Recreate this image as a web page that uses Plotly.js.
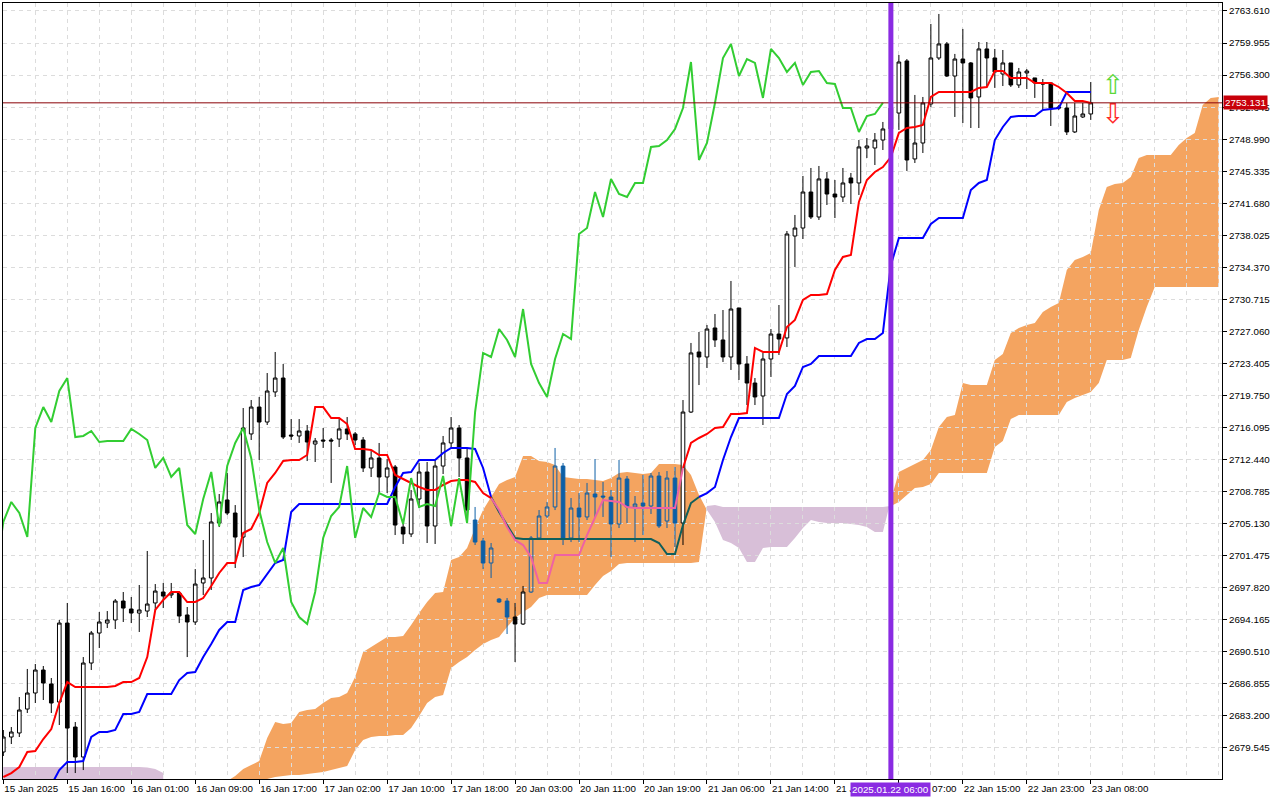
<!DOCTYPE html>
<html><head><meta charset="utf-8">
<script src="https://cdn.plot.ly/plotly-3.0.1.min.js"></script>
<style>html,body{margin:0;padding:0;background:#fff}#chart{width:1280px;height:800px}</style>
</head><body><div id="chart"></div>
<script>
// ---- candles (H1), bar position index 0..136 ----
const candleOpen = [2679.08,2680.79,2681.25,2683.98,2685.81,2688.43,2686.84,2684.78,2693.79,2681.93,2678.51,2689.23,2692.65,2693.79,2694.14,2696.30,2695.39,2694.93,2695.16,2696.08,2697.33,2696.99,2697.22,2694.71,2693.91,2698.36,2698.93,2705.20,2707.83,2706.34,2703.60,2715.36,2718.43,2716.72,2720.15,2721.74,2715.24,2715.13,2715.70,2714.21,2714.67,2714.67,2714.78,2715.93,2715.36,2714.67,2711.48,2712.62,2710.45,2711.59,2704.74,2703.95,2707.94,2711.02,2704.86,2711.70,2714.33,2716.04,2712.62,2705.54,2703.15,2700.64,2696.53,2696.30,2694.48,2693.68,2697.33,2703.49,2706.00,2707.03,2711.70,2703.49,2706.91,2705.89,2708.51,2708.28,2708.17,2705.09,2710.22,2707.03,2707.48,2707.14,2710.56,2705.43,2710.33,2705.20,2717.86,2724.71,2724.14,2727.45,2726.08,2724.14,2729.73,2723.34,2721.17,2719.69,2723.91,2726.76,2726.31,2737.94,2738.85,2742.96,2740.11,2744.45,2742.73,2742.39,2744.56,2743.99,2747.98,2747.98,2748.89,2750.15,2751.97,2757.91,2746.73,2748.55,2753.00,2758.25,2759.85,2756.19,2758.13,2757.68,2753.80,2759.28,2758.25,2756.42,2757.68,2755.17,2756.54,2755.97,2755.40,2755.40,2752.66,2752.54,2749.81,2751.52,2751.86];
const candleHigh = [2681.59,2681.93,2685.35,2688.55,2689.12,2688.89,2687.52,2694.14,2696.08,2682.50,2689.91,2692.88,2695.05,2695.16,2696.53,2697.33,2696.76,2698.13,2702.01,2698.24,2698.36,2698.36,2697.33,2695.62,2699.95,2703.26,2706.34,2708.51,2710.91,2707.25,2718.32,2719.23,2719.58,2722.31,2724.71,2723.34,2717.06,2717.06,2716.38,2714.90,2716.04,2714.90,2717.18,2717.29,2715.58,2715.01,2713.41,2714.33,2712.50,2711.82,2705.54,2708.97,2712.05,2712.16,2712.50,2715.13,2717.29,2716.38,2713.76,2707.03,2703.49,2702.92,2696.64,2696.64,2696.08,2698.02,2703.72,2706.68,2707.60,2713.76,2712.05,2708.05,2708.62,2709.77,2712.50,2709.88,2708.97,2712.39,2710.56,2708.28,2710.68,2710.91,2711.02,2711.13,2711.59,2719.23,2725.74,2726.99,2727.79,2729.04,2729.50,2732.81,2729.73,2724.25,2721.74,2724.60,2727.33,2730.07,2738.51,2740.34,2744.79,2745.70,2745.93,2745.24,2744.33,2745.70,2745.13,2748.89,2749.12,2749.69,2750.95,2753.00,2758.59,2758.13,2754.03,2753.80,2762.13,2763.27,2760.07,2758.71,2761.56,2757.79,2760.07,2760.07,2759.28,2759.16,2757.68,2757.11,2756.99,2755.97,2755.85,2755.40,2752.89,2753.12,2753.12,2753.12,2755.51];
const candleLow = [2678.62,2679.99,2680.79,2683.53,2684.67,2685.01,2683.53,2682.16,2676.68,2676.68,2677.02,2688.43,2690.94,2693.22,2693.11,2693.91,2693.79,2692.77,2694.48,2695.28,2695.50,2696.64,2693.79,2689.91,2693.57,2696.99,2697.56,2704.74,2706.11,2700.07,2701.32,2714.67,2712.39,2716.38,2719.58,2714.78,2714.67,2714.33,2712.27,2712.16,2713.76,2709.77,2713.87,2714.67,2714.10,2711.02,2710.45,2708.62,2708.62,2703.83,2702.81,2703.60,2706.91,2702.92,2702.81,2710.79,2713.76,2710.45,2705.32,2702.69,2699.95,2698.93,2696.08,2692.54,2689.34,2693.57,2697.22,2703.26,2705.77,2706.68,2702.69,2703.03,2703.03,2705.54,2705.77,2705.89,2701.32,2704.63,2705.20,2703.03,2703.83,2706.23,2704.63,2704.63,2702.46,2702.69,2717.75,2720.94,2722.88,2725.28,2723.57,2722.66,2721.52,2718.66,2718.66,2716.38,2721.86,2724.37,2725.28,2734.41,2737.60,2739.88,2739.77,2741.48,2739.99,2741.82,2741.59,2742.62,2746.84,2746.04,2747.75,2749.46,2750.04,2745.36,2746.27,2747.41,2752.66,2758.02,2756.08,2751.52,2750.83,2750.26,2750.26,2754.94,2754.83,2755.05,2754.94,2754.83,2754.71,2753.69,2752.32,2750.49,2752.32,2749.46,2749.69,2751.40,2751.18];
const candleClose = [2680.79,2681.36,2683.87,2685.81,2688.43,2686.95,2684.67,2693.79,2681.81,2678.51,2689.23,2692.65,2693.91,2694.14,2696.30,2695.50,2694.93,2695.28,2695.96,2697.44,2696.87,2697.22,2694.59,2693.91,2698.24,2698.93,2705.32,2707.60,2706.34,2703.60,2716.04,2718.43,2716.72,2720.26,2721.74,2715.01,2715.13,2715.70,2714.44,2714.56,2714.56,2714.56,2715.93,2715.36,2714.67,2711.48,2712.62,2710.45,2711.48,2704.97,2703.95,2707.94,2711.02,2704.86,2711.70,2714.33,2716.04,2712.62,2706.68,2703.03,2700.64,2702.35,2696.19,2694.48,2693.68,2697.33,2703.49,2706.00,2707.03,2711.70,2703.49,2706.91,2705.89,2708.62,2708.17,2708.17,2705.09,2710.33,2707.03,2707.37,2707.14,2710.56,2704.86,2710.33,2705.20,2717.86,2724.60,2724.14,2727.33,2726.08,2724.14,2729.61,2723.34,2721.17,2719.58,2723.91,2726.76,2726.19,2738.17,2738.85,2742.96,2740.11,2744.45,2742.73,2742.39,2743.99,2743.99,2748.10,2748.21,2748.89,2750.15,2752.54,2757.79,2746.61,2748.55,2753.12,2758.25,2759.85,2756.19,2758.13,2757.68,2753.69,2759.28,2758.25,2756.65,2757.68,2755.17,2756.65,2756.76,2755.40,2755.28,2752.54,2752.54,2749.81,2751.63,2751.86,2753.131];
// candles drawn in the cloud colour (bar indices)
const cloudCandleIdx = [59,60,61,62,63,66,67,68,69,70,71,72,73,74,75,76,77,78,79,80,81,82,83,84];

// ---- Ichimoku lines, bar position index 0..136 ----
const tenkan = [2676.22,2676.68,2677.37,2679.08,2679.19,2680.56,2681.70,2684.67,2687.06,2686.49,2686.49,2686.49,2686.49,2686.49,2686.61,2687.06,2687.06,2687.52,2689.91,2695.28,2696.42,2697.33,2697.33,2696.19,2696.19,2696.64,2698.02,2699.50,2700.64,2700.64,2704.06,2704.52,2706.34,2709.77,2710.91,2712.27,2712.39,2712.39,2712.96,2718.43,2718.43,2717.18,2717.18,2716.49,2713.64,2713.64,2713.53,2712.96,2712.96,2710.68,2710.22,2709.77,2709.31,2708.97,2708.97,2709.54,2709.99,2710.11,2710.11,2709.88,2708.62,2708.05,2706.68,2704.74,2703.26,2702.69,2701.32,2698.36,2698.36,2701.55,2701.55,2701.55,2701.55,2703.83,2705.89,2707.83,2707.71,2707.60,2707.03,2706.91,2706.91,2706.91,2706.91,2706.91,2706.91,2711.48,2714.33,2714.90,2715.36,2716.04,2716.15,2717.64,2717.64,2717.75,2725.17,2724.71,2724.71,2724.71,2727.56,2728.36,2730.64,2731.21,2731.21,2731.32,2734.06,2735.55,2735.77,2741.82,2744.33,2745.24,2745.81,2746.95,2749.69,2750.26,2750.38,2750.60,2753.80,2754.37,2754.37,2754.37,2754.37,2754.37,2754.83,2754.94,2756.76,2756.76,2755.97,2755.97,2755.97,2755.40,2755.40,2755.40,2754.94,2754.26,2753.34,2753.34,2753.12];
const kijun = [null,null,null,null,null,null,2675.31,2677.02,2677.94,2677.94,2678.05,2680.79,2681.36,2681.36,2681.59,2683.41,2683.41,2683.64,2685.69,2685.69,2685.69,2685.69,2687.29,2688.09,2688.20,2689.91,2691.40,2693.00,2693.91,2693.91,2697.56,2697.90,2698.13,2699.38,2700.64,2700.98,2706.46,2707.37,2707.37,2707.37,2707.37,2707.37,2707.37,2707.37,2707.37,2707.37,2707.37,2707.37,2707.37,2709.31,2710.91,2711.02,2712.39,2712.39,2712.39,2713.19,2713.76,2713.76,2713.76,2713.64,2711.48,2708.17,2706.46,2704.97,2703.49,2703.37,2703.37,2703.37,2703.37,2703.37,2703.37,2703.37,2703.37,2703.37,2703.37,2703.37,2703.37,2703.37,2703.37,2703.37,2703.37,2703.37,2702.92,2701.66,2701.66,2704.97,2707.48,2708.17,2708.62,2709.31,2712.39,2715.01,2717.18,2717.18,2717.18,2717.18,2717.18,2717.18,2719.92,2720.83,2723.00,2723.34,2724.25,2724.25,2724.25,2724.25,2724.25,2725.74,2726.19,2726.19,2726.88,2734.63,2737.71,2737.71,2737.71,2737.71,2739.31,2739.99,2739.99,2739.99,2739.99,2743.19,2743.99,2744.33,2748.89,2750.38,2751.52,2751.63,2751.63,2751.63,2752.32,2752.43,2752.54,2754.37,2754.37,2754.37,2754.37];
const chikouShift = 26;           // Chikou = close drawn 26 bars back
const tenkanInCloud = [61, 85];   // bar range where Tenkan lies inside the cloud
const kijunInCloud = [61, 87];    // bar range where Kijun lies inside the cloud

// ---- Kumo (already shifted), chart position index 0..152 ----
const spanA = [2674.74,2674.74,2674.74,2674.74,2674.74,2674.74,2674.74,2674.74,2674.74,2674.74,2674.74,2674.74,2674.74,2674.74,2674.74,2674.74,2674.74,2674.74,2674.74,2674.74,2674.74,
 null,null,null,null,null,null,null,
 2675.77,2676.34,2677.14,2677.59,2678.05,2680.67,2682.50,2682.27,2682.38,2683.64,2683.87,2683.98,2684.67,2685.24,2685.35,2685.81,2687.63,2690.49,2691.06,2691.63,2692.20,2692.20,2692.31,2693.57,2694.93,2696.19,2697.22,2697.33,2700.98,2701.32,2702.35,2704.63,2706.68,2708.17,2709.65,2710.11,2710.45,2712.84,2712.84,2712.27,2712.16,2711.82,2710.45,2710.33,2710.22,2710.22,2710.11,2709.99,2710.33,2710.91,2711.02,2710.91,2710.79,2710.91,2711.93,2711.93,2711.93,2711.82,2710.68,2708.40,
 2706.68,2705.32,2703.26,2702.92,2702.35,2700.75,2700.75,2702.35,2702.46,2702.46,2702.46,2703.49,2704.63,2705.54,2705.32,2705.20,2705.20,2705.20,2705.09,2704.97,2704.74,2704.17,2704.17,
 2707.83,2711.02,2711.48,2711.93,2712.39,2713.53,2716.15,2717.29,2717.52,2721.17,2720.94,2720.94,2720.94,2723.80,2724.48,2726.87,2727.45,2727.79,2728.02,2729.27,2729.84,2730.30,2734.06,2735.20,2735.55,2736.00,2740.91,2743.53,2743.87,2743.99,2744.67,2746.84,2747.18,2747.18,2747.18,2747.18,2748.32,2749.12,2749.69,2752.89,2753.69,2753.80];
const spanB = [2677.37,2677.37,2677.37,2677.37,2677.37,2677.37,2677.37,2677.37,2677.37,2677.37,2677.37,2677.37,2677.37,2677.37,2677.37,2677.37,2677.37,2677.37,2677.31,2677.14,2676.68,
 null,null,null,null,null,null,null,
 2674.51,2674.74,2675.20,2675.54,2675.77,2676.00,2676.22,2676.34,2676.45,2676.45,2676.57,2676.68,2676.79,2677.02,2677.25,2677.48,2679.31,2680.45,2680.79,2680.90,2680.90,2681.02,2681.02,2681.81,2683.18,2684.67,2685.35,2685.58,2688.66,2689.34,2689.91,2690.71,2691.40,2691.85,2692.20,2693.34,2694.36,2695.05,2695.62,2696.64,2696.99,2696.99,2696.99,2696.99,2696.99,2696.99,2698.13,2699.16,2699.73,2700.53,2700.64,2700.64,2700.64,2700.64,2700.64,2700.64,2700.64,2700.64,2700.64,2700.75,
 2707.14,2707.25,2707.03,2707.03,2707.03,2707.03,2707.03,2707.03,2707.03,2707.03,2707.03,2707.03,2707.03,2707.03,2707.03,2707.03,2707.03,2707.03,2707.03,2707.03,2707.03,2707.03,2707.03,
 2707.14,2707.60,2708.40,2709.19,2709.31,2709.65,2710.91,2710.91,2710.91,2710.91,2710.91,2710.91,2710.91,2713.87,2714.56,2717.06,2717.52,2717.52,2717.52,2717.52,2717.52,2717.52,2719.00,2719.46,2719.80,2720.14,2721.17,2723.80,2723.80,2723.80,2724.03,2727.22,2729.84,2732.13,2732.13,2732.13,2732.13,2732.13,2732.13,2732.13,2732.13,2732.13];

// ---- axes ----
const xTickIdx = [0,8,16,24,32,40,48,56,64,72,80,88,96,104,112,120,128,136];
const xTickText = ["15 Jan 2025","15 Jan 16:00","16 Jan 01:00","16 Jan 09:00","16 Jan 17:00","17 Jan 02:00","17 Jan 10:00","17 Jan 18:00","20 Jan 03:00","20 Jan 11:00","20 Jan 19:00","21 Jan 06:00","21 Jan 14:00","21 Jan 22:00","22 Jan 07:00","22 Jan 15:00","22 Jan 23:00","23 Jan 08:00"];
const yTicks = [2679.545,2683.200,2686.855,2690.510,2694.165,2697.820,2701.475,2705.130,2708.785,2712.440,2716.095,2719.750,2723.405,2727.060,2730.715,2734.370,2738.025,2741.680,2745.335,2748.990,2752.645,2756.300,2759.955,2763.610];
const markerIdx = 111;                 // vertical marker bar
const markerLabel = "2025.01.22 06:00";
const lastPrice = 2753.131;
const signalIdx = [138.8, 138.8];
const signalPrice = [2754.95, 2751.57];
const signalText = ["⇧", "⇩"];

// ---- build ----
const FONT = "Liberation Sans, Arial, sans-serif";
const idx = candleOpen.map((_, i) => i);
const traces = [];
const shapes = [];

// cloud, drawn as filled paths in data coordinates beneath the grid
(function () {
  const segs = []; let seg = null;
  for (let i = 0; i < spanA.length; i++) {
    const a = spanA[i], b = spanB[i];
    if (a == null || b == null) { if (seg) { segs.push(seg); seg = null; } continue; }
    const up = a >= b;
    if (seg && seg.up !== up) { seg.pts.push(i); segs.push(seg); seg = null; }
    if (!seg) seg = { up: up, pts: [] };
    seg.pts.push(i);
  }
  if (seg) segs.push(seg);
  segs.forEach(s => {
    const rev = s.pts.slice().reverse();
    const pts = s.pts.map(i => i + ',' + spanA[i]).concat(rev.map(i => i + ',' + spanB[i]));
    shapes.push({
      type: 'path', xref: 'x', yref: 'y', layer: 'below',
      path: 'M' + pts.join('L') + 'Z',
      fillcolor: s.up ? '#F4A460' : '#D8BFD8', line: { width: 0 }
    });
  });
})();

// candles
const inCloudSet = new Set(cloudCandleIdx);
function pick(cond) {
  const ii = idx.filter(cond);
  return { x: ii, open: ii.map(i => candleOpen[i]), high: ii.map(i => candleHigh[i]), low: ii.map(i => candleLow[i]), close: ii.map(i => candleClose[i]) };
}
traces.push(Object.assign({
  type: 'candlestick', whiskerwidth: 0, hoverinfo: 'skip',
  increasing: { line: { color: '#000000', width: 1 }, fillcolor: '#ffffff' },
  decreasing: { line: { color: '#000000', width: 1 }, fillcolor: '#000000' }
}, pick(i => !inCloudSet.has(i))));
traces.push(Object.assign({
  type: 'candlestick', whiskerwidth: 0, hoverinfo: 'skip',
  increasing: { line: { color: '#0D5FA6', width: 1 }, fillcolor: 'rgba(0,0,0,0)' },
  decreasing: { line: { color: '#0D5FA6', width: 1 }, fillcolor: '#0D5FA6' }
}, pick(i => inCloudSet.has(i))));

// lines
function part(arr, from, to, inside) {
  return arr.map((v, i) => { const inR = i >= from && i <= to; return (inside ? inR : (i <= from || i >= to)) ? v : null; });
}
function line(y, color, x) {
  return { type: 'scatter', mode: 'lines', x: x || idx, y: y, line: { color: color, width: 2 }, hoverinfo: 'skip', connectgaps: false };
}
traces.push(line(part(kijun, kijunInCloud[0], kijunInCloud[1], false), '#0000FF'));
traces.push(line(part(kijun, kijunInCloud[0], kijunInCloud[1], true), '#0F5F5C'));
traces.push(line(part(tenkan, tenkanInCloud[0], tenkanInCloud[1], false), '#FF0000'));
traces.push(line(part(tenkan, tenkanInCloud[0], tenkanInCloud[1], true), '#EE62A4'));
traces.push(line(candleClose, '#32CD32', idx.map(i => i - chikouShift)));

// signal arrows
traces.push({
  type: 'scatter', mode: 'text', x: signalIdx, y: signalPrice, text: signalText,
  textfont: { family: 'DejaVu Sans', size: 27, color: ['#5BD83A', '#FF2A2A'] }, hoverinfo: 'skip'
});

shapes.push({ type: 'line', xref: 'paper', x0: 0, x1: 1, yref: 'y', y0: lastPrice, y1: lastPrice, line: { color: '#8A0006', width: 1 }, layer: 'above' });
shapes.push({ type: 'line', xref: 'x', x0: markerIdx, x1: markerIdx, yref: 'paper', y0: 0, y1: 1, line: { color: '#8A2BE2', width: 5 }, layer: 'above' });

const grid = { gridcolor: '#DCDCDC', griddash: '4px,4px', gridwidth: 1 };
const layout = {
  width: 1280, height: 800,
  margin: { l: 3, r: 58, t: 3, b: 21 },
  paper_bgcolor: '#ffffff', plot_bgcolor: 'rgba(0,0,0,0)',
  showlegend: false, boxgap: 0.35, hovermode: false,
  xaxis: Object.assign({
    type: 'linear', range: [-0.04, 152.41], tickmode: 'array', tickvals: xTickIdx, ticktext: xTickText,
    tickangle: 0, ticks: 'outside', ticklen: 4, tickcolor: '#000', showgrid: true,
    showline: true, linecolor: '#000', linewidth: 1, mirror: true, zeroline: false,
    rangeslider: { visible: false }, ticklabelposition: 'outside right',
    tickfont: { family: FONT, size: 9.8, color: '#000' },
    minor: Object.assign({ tickmode: 'linear', tick0: 0, dtick: 4, showgrid: true, ticks: '' }, grid),
    fixedrange: true
  }, grid),
  yaxis: Object.assign({
    side: 'right', range: [2676.0, 2764.52], tickmode: 'array', tickvals: yTicks,
    ticktext: yTicks.map(v => v.toFixed(3)), ticks: 'outside', ticklen: 4, tickcolor: '#000',
    showgrid: true, showline: true, linecolor: '#000', linewidth: 1, mirror: true, zeroline: false,
    tickfont: { family: FONT, size: 9.8, color: '#000' }, fixedrange: true
  }, grid),
  shapes: shapes,
  annotations: [
    { xref: 'x', x: markerIdx, yref: 'paper', y: 0, yanchor: 'top', yshift: -3, showarrow: false,
      text: markerLabel, bgcolor: '#8A2BE2', borderpad: 1, font: { family: FONT, size: 9.8, color: '#ffffff' } },
    { xref: 'paper', x: 1, xanchor: 'left', xshift: 1, yref: 'y', y: lastPrice, showarrow: false,
      text: lastPrice.toFixed(3), bgcolor: '#C8000A', borderpad: 1, font: { family: FONT, size: 9.8, color: '#ffffff' } }
  ]
};
Plotly.newPlot('chart', traces, layout, { staticPlot: true, displayModeBar: false });
</script>
</body></html>
